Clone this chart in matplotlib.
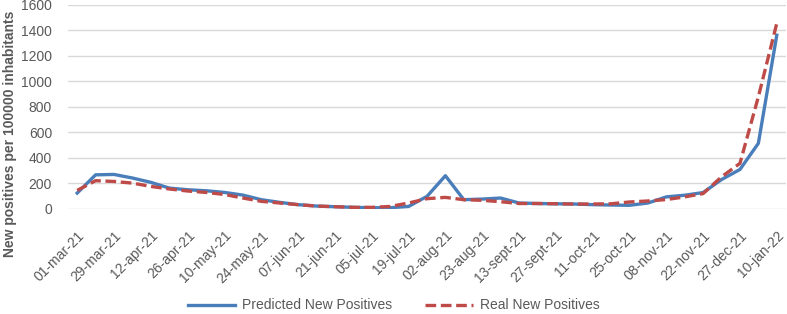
import numpy as np
import matplotlib.pyplot as plt

plt.rcParams['font.family'] = ['Liberation Sans', 'DejaVu Sans']

# every second category is labelled on the axis
date_labels = ['01-mar-21', '29-mar-21', '12-apr-21', '26-apr-21', '10-may-21',
               '24-may-21', '07-jun-21', '21-jun-21', '05-jul-21', '19-jul-21',
               '02-aug-21', '23-aug-21', '13-sept-21', '27-sept-21', '11-oct-21',
               '25-oct-21', '08-nov-21', '22-nov-21', '27-dec-21', '10-jan-22']

predicted = [125, 268, 271, 243, 209, 164, 151, 143, 130, 109,
             73, 52, 34, 23, 18, 13, 10, 10, 20, 99,
             261, 73, 78, 86, 47, 43, 41, 39, 34, 31,
             29, 47, 95, 108, 129, 231, 310, 515, 1363]

real = [146, 222, 216, 203, 177, 157, 141, 130, 114, 86,
        60, 47, 34, 23, 18, 13, 13, 20, 47, 81,
        91, 73, 68, 57, 43, 43, 41, 39, 39, 41,
        55, 63, 74, 95, 121, 252, 358, 880, 1456]

grey = '#595959'

fig = plt.figure(figsize=(7.87, 3.14), dpi=100)
ax = fig.add_axes([0.0864, 0.3344, 0.9123, 0.6497])

x = np.arange(len(predicted))
ax.plot(x, predicted, color='#4A7EBB', lw=2.4, solid_joinstyle='round',
        label='Predicted New Positives')
ax.plot(x, real, color='#BE4B48', lw=2.4, ls=(0, (3.2, 1.4)),
        label='Real New Positives')

ax.set_xlim(-0.5, len(x) - 0.5)
ax.set_ylim(0, 1600)
ax.set_yticks(range(0, 1601, 200))
ax.set_xticks(x[::2])
ax.set_xticklabels(date_labels, rotation=45, ha='right', va='top',
                   rotation_mode='anchor')
ax.tick_params(length=0, labelsize=10, colors=grey)
ax.tick_params(axis='y', pad=11.5)
ax.tick_params(axis='x', pad=14)

ax.grid(axis='y', color='#D9D9D9', lw=1)
ax.set_axisbelow(True)
for s in ax.spines.values():
    s.set_visible(False)

ax.set_ylabel('New positives per 100000 inhabitants', fontsize=10,
              fontweight='bold', color=grey)
ax.yaxis.set_label_coords(-0.071, 0.37)

fig.legend(loc='lower center', bbox_to_anchor=(0.5, -0.035), ncol=2,
           frameon=False, fontsize=10, labelcolor=grey,
           handlelength=3.4, handletextpad=0.5, columnspacing=2.4)

fig.savefig('out.png', dpi=100)
